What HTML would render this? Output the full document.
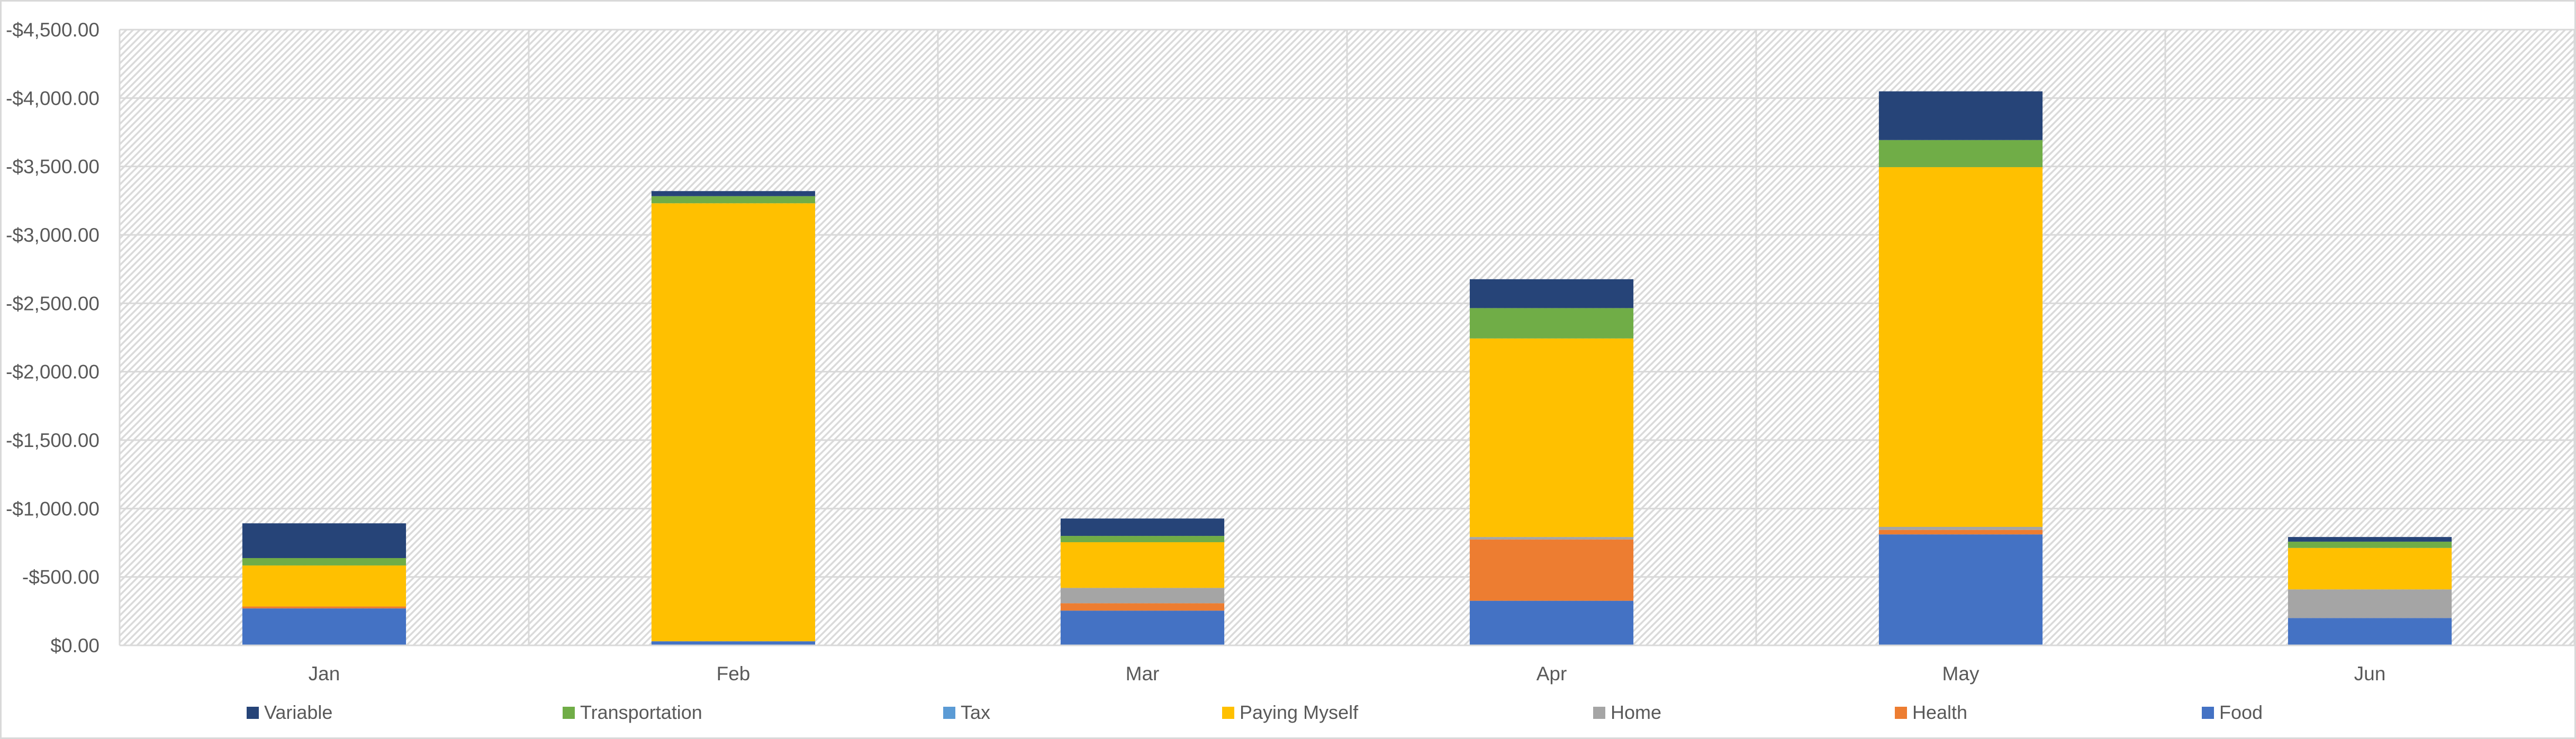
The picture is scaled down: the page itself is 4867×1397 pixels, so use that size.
<!DOCTYPE html>
<html><head><meta charset="utf-8"><style>
html,body{margin:0;padding:0;background:#fff;}
svg{display:block;font-family:"Liberation Sans",Arial,sans-serif;}
</style></head><body>
<svg id="chart" width="4867" height="1397" viewBox="0 0 4867 1397" xmlns="http://www.w3.org/2000/svg">
<defs>
<pattern id="hatch" patternUnits="userSpaceOnUse" width="9" height="9" patternTransform="rotate(45)">
<rect width="9" height="9" fill="#ffffff"/>
<rect x="0" y="0" width="3.5" height="9" fill="#dadada"/>
</pattern>
</defs>
<rect x="1.5" y="1.5" width="4864" height="1394" fill="#fff" stroke="#d9d9d9" stroke-width="3"/>
<rect x="226" y="56" width="4638" height="1164" fill="url(#hatch)"/>
<g id="grid"></g>
<g id="bars"></g>
<g id="yaxis"></g>
<g id="xaxis"></g>
<g id="legend"></g>
</svg>
<script>
const categories = ["Jan","Feb","Mar","Apr","May","Jun"];
const seriesNames = ["Food","Health","Home","Paying Myself","Tax","Transportation","Variable"];
const food = [270, 30, 254, 326, 811, 200];
const health = [14, 0, 54, 448, 33, 0];
const home = [0, 0, 112, 18, 22, 209];
const payingMyself = [300, 3201, 334, 1451, 2629, 303];
const tax = [0, 0, 0, 0, 0, 0];
const transportation = [54, 52, 46, 222, 198, 46];
const variable = [254, 37, 127, 211, 356, 34];
const tickValues = [0, 500, 1000, 1500, 2000, 2500, 3000, 3500, 4000, 4500];
const tickLabels = ["$0.00","-$500.00","-$1,000.00","-$1,500.00","-$2,000.00","-$2,500.00","-$3,000.00","-$3,500.00","-$4,000.00","-$4,500.00"];
const legendOrder = ["Variable","Transportation","Tax","Paying Myself","Home","Health","Food"];

const NS = "http://www.w3.org/2000/svg";
const colors = {"Food":"#4472c4","Health":"#ed7d31","Home":"#a5a5a5","Paying Myself":"#ffc000","Tax":"#5b9bd5","Transportation":"#70ad47","Variable":"#264478"};
const seriesData = [food, health, home, payingMyself, tax, transportation, variable];
const plotL = 226, plotR = 4864, plotT = 56, plotB = 1220;
const yMax = 4500;
const catW = (plotR - plotL) / categories.length;
const barW = catW * 0.4;
function yScale(v){ return plotB - (v / yMax) * (plotB - plotT); }
function xCenter(i){ return plotL + catW * (i + 0.5); }
function mk(tag, attrs, parent){ const e = document.createElementNS(NS, tag); for (const k in attrs) e.setAttribute(k, attrs[k]); parent.appendChild(e); return e; }

const grid = document.getElementById('grid');
tickValues.forEach((t) => {
  const y = yScale(t);
  const l = mk('line', {x1: plotL, x2: plotR, y1: y, y2: y, stroke: '#d9d9d9', 'stroke-width': 3}, grid);
  
  
});
for (let i = 0; i <= categories.length; i++) {
  const x = plotL + catW * i;
  const l = mk('line', {x1: x, x2: x, y1: plotT, y2: plotB, stroke: '#d9d9d9', 'stroke-width': 3}, grid);
  
  
}

const bars = document.getElementById('bars');
categories.forEach((c, i) => {
  let cum = 0;
  seriesData.forEach((arr, s) => {
    const v = arr[i];
    if (v <= 0) { return; }
    const y0 = yScale(cum), y1 = yScale(cum + v);
    const r = mk('rect', {x: xCenter(i) - barW / 2, y: y1, width: barW, height: y0 - y1, fill: colors[seriesNames[s]]}, bars);
    
    
    cum += v;
  });
});
const axisLine = mk('line', {x1: plotL, x2: plotR, y1: plotB, y2: plotB, stroke: '#d9d9d9', 'stroke-width': 3}, bars);



const yaxis = document.getElementById('yaxis');
tickValues.forEach((t, k) => {
  const tx = mk('text', {x: 188, y: yScale(t) + 13, 'text-anchor': 'end', 'font-size': 37, fill: '#595959'}, yaxis);
  tx.textContent = tickLabels[k];
  
  
});

const xaxis = document.getElementById('xaxis');
categories.forEach((c, i) => {
  const tx = mk('text', {x: xCenter(i), y: 1286, 'text-anchor': 'middle', 'font-size': 37, fill: '#595959'}, xaxis);
  tx.textContent = c;
  
  
});

const legendX = [466, 1063, 1782, 2309, 3010, 3580, 4160];
const legend = document.getElementById('legend');
legendOrder.forEach((n, k) => {
  const g = mk('g', {}, legend);
  
  
  const sw = mk('rect', {x: legendX[k], y: 1336, width: 23, height: 23, fill: colors[n]}, g);
  
  
  const tx = mk('text', {x: legendX[k] + 33, y: 1359, 'font-size': 36, fill: '#595959'}, g);
  tx.textContent = n;
  
  
});
</script>
</body></html>
